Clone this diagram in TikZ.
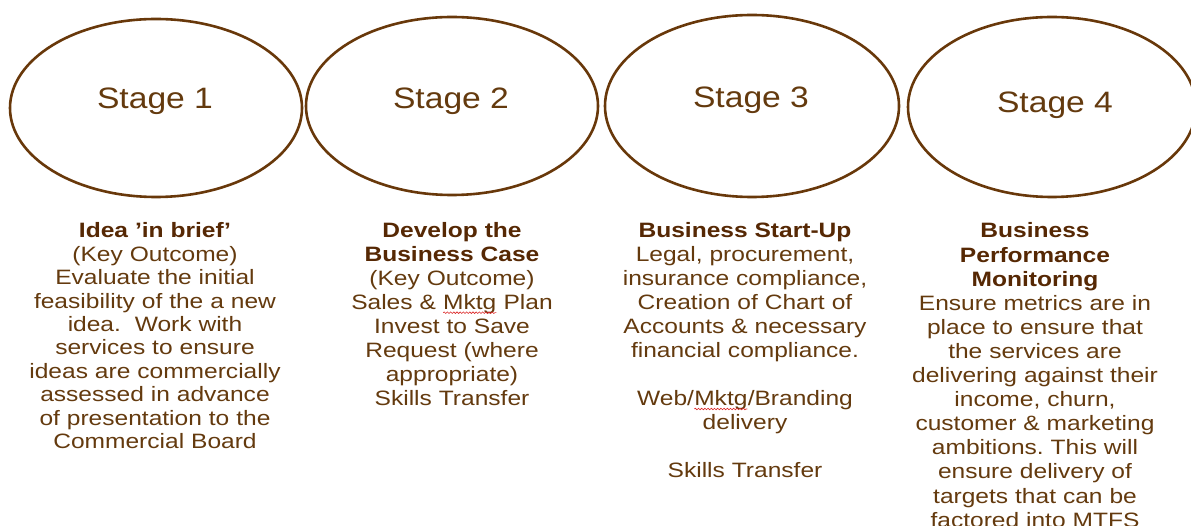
\documentclass[tikz,border=0pt]{standalone}
\usepackage{fontspec}
\usetikzlibrary{shapes.geometric,decorations.pathmorphing}
\setmainfont{Liberation Sans}
\newfontfamily\bodyfont[FakeStretch=1.18]{Liberation Sans}
\newfontfamily\stagefont[FakeStretch=1.14]{Liberation Sans}
\frenchspacing
\definecolor{ovalbrown}{RGB}{104,56,10}
\definecolor{textbrown}{RGB}{100,58,14}
\definecolor{headbrown}{RGB}{86,40,4}
\definecolor{spellred}{RGB}{220,40,40}
% wavy red mark under a word
\newcommand\spellmark[1]{\tikz[baseline=(sw.base)]{\node[inner sep=0pt,outer sep=0pt](sw){#1};
  \draw[spellred,line width=0.6pt,decorate,decoration={snake,amplitude=0.8pt,segment length=3.2pt}]
  ([yshift=-3pt]sw.base west)--([yshift=-3pt]sw.base east);}}
\tikzset{
  oval/.style={ellipse,draw=ovalbrown,line width=2.6pt,minimum width=292pt,minimum height=178pt,inner sep=0pt},
  stagetxt/.style={font=\stagefont\fontsize{29.5}{34}\selectfont,text=textbrown,inner sep=0pt},
  coltxt/.style={anchor=base,align=center,text width=300pt,inner sep=0pt,
    font=\bodyfont\fontsize{20.8}{#1}\selectfont,text=textbrown},
  coltxt/.default=24pt
}
\newcommand\hd[1]{{\bfseries\color{headbrown}#1}}
\begin{document}
\begin{tikzpicture}[x=1pt,y=-1pt]
\useasboundingbox[fill=white] (0,0) rectangle (1191,526);

% stage ovals
\node[oval] (o1) at (156,108) {};
\node[oval] (o2) at (452,106) {};
\node[oval,minimum width=294pt,minimum height=182pt] (o3) at (752,106) {};
\node[oval,minimum width=288pt,minimum height=180pt] (o4) at (1052,107) {};

\node[stagetxt] (s1) at (155,101) {Stage 1};
\node[stagetxt] (s2) at (451,101) {Stage 2};
\node[stagetxt] (s3) at (751,100) {Stage 3};
\node[stagetxt] (s4) at (1055,105) {Stage 4};

% stage descriptions
\node[coltxt=23.4pt] (c1) at (155,238) {\hd{Idea ’in brief’}\\
(Key Outcome)\\
Evaluate the initial\\
feasibility of the a new\\
idea.~ Work with\\
services to ensure\\
ideas are commercially\\
assessed in advance\\
of presentation to the\\
Commercial Board};

\node[coltxt=23.9pt] (c2) at (452,238) {\hd{Develop the}\\
\hd{Business Case}\\
(Key Outcome)\\
Sales \& \spellmark{Mktg} Plan\\
Invest to Save\\
Request (where\\
appropriate)\\
Skills Transfer};

\node[coltxt=24pt] (c3) at (745,238) {\hd{Business Start-Up}\\
Legal, procurement,\\
insurance compliance,\\
Creation of Chart of\\
Accounts \& necessary\\
financial compliance.\\[24pt]
Web/\spellmark{Mktg}/Branding\\
delivery\\[24pt]
Skills Transfer};

\node[coltxt=24.1pt] (c4) at (1035,238) {\hd{Business}\\
\hd{Performance}\\
\hd{Monitoring}\\
Ensure metrics are in\\
place to ensure that\\
the services are\\
delivering against their\\
income, churn,\\
customer \& marketing\\
ambitions. This will\\
ensure delivery of\\
targets that can be\\
factored into MTFS};
\end{tikzpicture}
\end{document}
